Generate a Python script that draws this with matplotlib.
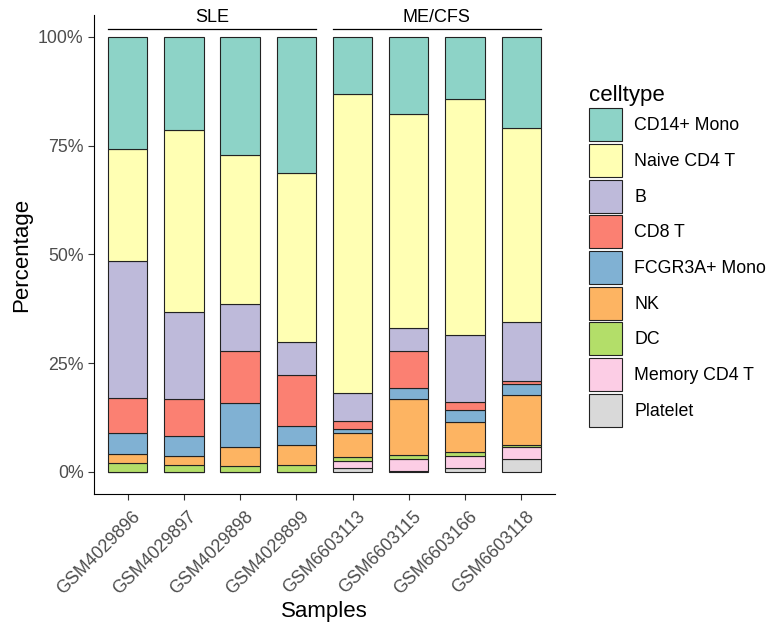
import numpy as np
import matplotlib
matplotlib.use("Agg")
from matplotlib import pyplot as plt
from matplotlib.patches import Patch
from matplotlib.transforms import ScaledTranslation

plt.rcParams['font.family'] = ['Liberation Sans', 'DejaVu Sans']

# samples and groups
samples = ['GSM4029896', 'GSM4029897', 'GSM4029898', 'GSM4029899',
           'GSM6603113', 'GSM6603115', 'GSM6603166', 'GSM6603118']
groups = ['SLE', 'ME/CFS']

# percentages per cell type (bottom of stack first)
platelet = [0, 0, 0, 0, 0.85, 0.3, 1.0, 3.1]
memory_cd4 = [0, 0, 0, 0, 1.65, 2.8, 2.6, 2.6]
dc = [2.0, 1.7, 1.3, 1.7, 0.9, 0.9, 1.1, 0.6]
nk = [2.1, 2.0, 4.5, 4.4, 5.6, 12.8, 6.8, 11.5]
fcgr3a_mono = [4.9, 4.5, 10.1, 4.5, 0.9, 2.6, 2.7, 2.4]
cd8_t = [8.0, 8.5, 12.0, 11.8, 1.8, 8.5, 2.0, 0.8]
b_cell = [31.5, 20.1, 10.7, 7.5, 6.4, 5.2, 15.4, 13.5]
naive_cd4 = [25.8, 41.8, 34.3, 38.8, 68.8, 49.2, 54.1, 44.5]
cd14_mono = [25.7, 21.4, 27.1, 31.3, 13.1, 17.7, 14.3, 21.0]

celltypes = ['CD14+ Mono', 'Naive CD4 T', 'B', 'CD8 T', 'FCGR3A+ Mono',
             'NK', 'DC', 'Memory CD4 T', 'Platelet']
values = [cd14_mono, naive_cd4, b_cell, cd8_t, fcgr3a_mono,
          nk, dc, memory_cd4, platelet]
colors = ['#8DD3C7', '#FFFFB3', '#BEBADA', '#FB8072', '#80B1D3',
          '#FDB462', '#B3DE69', '#FCCDE5', '#D9D9D9']

fig = plt.figure(figsize=(7.69, 6.22), dpi=100)
ax = fig.add_axes([0.1222, 0.2062, 0.5995, 0.7693])

x = np.arange(1, len(samples) + 1)
bottom = np.zeros(len(samples))
# stack from Platelet upward
for name, vals, col in reversed(list(zip(celltypes, values, colors))):
    v = np.array(vals) / 100.0
    ax.bar(x, v, width=0.7, bottom=bottom, color=col, edgecolor='#222222',
           linewidth=0.8)
    bottom += v

ax.set_xlim(0.4, 8.6)
ax.set_ylim(-0.05, 1.05)
ax.set_yticks([0, 0.25, 0.5, 0.75, 1.0])
ax.set_yticklabels(['0%', '25%', '50%', '75%', '100%'])
ax.set_xticks(x)
ax.set_xticklabels(samples, rotation=45, ha='right', rotation_mode='anchor')
ax.tick_params(axis='both', labelsize=12.8, labelcolor='#4D4D4D',
               color='#333333', length=4)
# nudge the rotated labels a little right and down, like ggplot's hjust/vjust
shift = ScaledTranslation(4 / 100, -4 / 100, fig.dpi_scale_trans)
for lab in ax.get_xticklabels():
    lab.set_transform(lab.get_transform() + shift)
for s in ['top', 'right']:
    ax.spines[s].set_visible(False)
ax.set_xlabel('Samples', fontsize=16, labelpad=2)
ax.set_ylabel('Percentage', fontsize=16, labelpad=4)

# group annotations above bars
for i, g in enumerate(groups):
    x0 = 0.65 + 4 * i
    x1 = 4.35 + 4 * i
    ax.plot([x0, x1], [1.018, 1.018], color='black', lw=0.9, clip_on=False)
    ax.text((x0 + x1) / 2, 1.025, g, ha='center', va='bottom', fontsize=13)

handles = [Patch(facecolor=c, edgecolor='#222222', linewidth=0.8) for c in colors]
leg = fig.legend(handles, celltypes, loc='upper left', bbox_to_anchor=(0.766, 0.864),
                 frameon=False, title='celltype', title_fontsize=16, fontsize=12.8,
                 alignment='left', handlelength=1.86, handleheight=2.48,
                 labelspacing=0.15, handletextpad=0.68, borderpad=0, borderaxespad=0)

fig.savefig('out.png', dpi=100)
